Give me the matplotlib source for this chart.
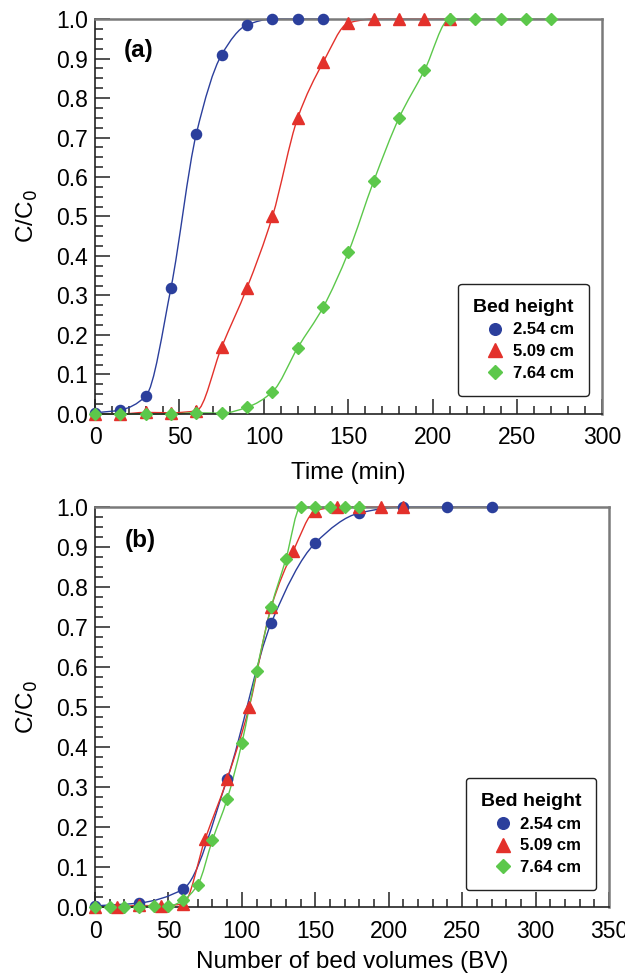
import numpy as np
import matplotlib
matplotlib.use("Agg")
import matplotlib.pyplot as plt
from matplotlib.path import Path
from matplotlib.patches import PathPatch
from matplotlib import ticker

plt.rcParams['font.family'] = ['Liberation Sans', 'DejaVu Sans']

# ---- data ----
labels = ['2.54 cm', '5.09 cm', '7.64 cm']

t_254 = [0, 15, 30, 45, 60, 75, 90, 105, 120, 135]
c_254 = [0.003, 0.01, 0.045, 0.32, 0.71, 0.91, 0.985, 1.0, 1.0, 1.0]

t_509 = [0, 15, 30, 45, 60, 75, 90, 105, 120, 135, 150, 165, 180, 195, 210]
c_509 = [0.0, 0.0, 0.004, 0.003, 0.008, 0.17, 0.32, 0.50, 0.75, 0.89, 0.99, 1.0, 1.0, 1.0, 1.0]

t_764 = [0, 15, 30, 45, 60, 75, 90, 105, 120, 135, 150, 165, 180, 195, 210, 225, 240, 255, 270]
c_764 = [0.0, 0.0, 0.0, 0.0, 0.003, 0.002, 0.017, 0.056, 0.168, 0.27, 0.41, 0.59, 0.75, 0.87, 1.0, 1.0, 1.0, 1.0, 1.0]

bv_254 = [0, 30, 60, 90, 120, 150, 180, 210, 240, 270]
bv_509 = [0, 15, 30, 45, 60, 75, 90, 105, 120, 135, 150, 165, 180, 195, 210]
bv_764 = [0, 10, 20, 30, 40, 50, 60, 70, 80, 90, 100, 110, 120, 130, 140, 150, 160, 170, 180]

colors = ['#2b3f9c', '#e3312b', '#5cc84b']
markers = ['o', '^', 'D']
msizes = [7.3, 8.2, 6.2]


def smooth_path(x, y):
    # monotone cubic (Fritsch-Carlson) drawn as bezier segments
    x = np.asarray(x, float)
    y = np.asarray(y, float)
    h = np.diff(x)
    d = np.diff(y) / h
    m = np.zeros_like(y)
    m[0], m[-1] = d[0], d[-1]
    for i in range(1, len(x) - 1):
        if d[i - 1] * d[i] <= 0:
            m[i] = 0
        else:
            w1 = 2 * h[i] + h[i - 1]
            w2 = h[i] + 2 * h[i - 1]
            m[i] = (w1 + w2) / (w1 / d[i - 1] + w2 / d[i])
    verts = [(x[0], y[0])]
    codes = [Path.MOVETO]
    for i in range(len(x) - 1):
        verts += [(x[i] + h[i] / 3, y[i] + m[i] * h[i] / 3),
                  (x[i + 1] - h[i] / 3, y[i + 1] - m[i + 1] * h[i] / 3),
                  (x[i + 1], y[i + 1])]
        codes += [Path.CURVE4] * 3
    return Path(verts, codes)


def style_axes(ax, xmax, xlabel, tag, tag_y, xpad):
    ax.set_xlim(0, xmax)
    ax.set_ylim(0, 1.0)
    ax.xaxis.set_major_locator(ticker.MultipleLocator(50))
    ax.xaxis.set_minor_locator(ticker.MultipleLocator(10))
    ax.yaxis.set_major_locator(ticker.MultipleLocator(0.1))
    ax.yaxis.set_minor_locator(ticker.MultipleLocator(0.025))
    ax.yaxis.set_major_formatter(ticker.FormatStrFormatter('%.1f'))
    ax.tick_params(which='both', direction='in', top=False, right=False,
                   labelsize=16.5, color='#222222', width=1.1)
    ax.tick_params(which='major', length=11)
    ax.tick_params(which='minor', length=5.5)
    ax.tick_params(axis='x', which='major', pad=9)
    ax.tick_params(axis='y', which='major', pad=5)
    for s in ['left', 'bottom']:
        ax.spines[s].set_color('#222222')
        ax.spines[s].set_linewidth(1.2)
    for s in ['top', 'right']:
        ax.spines[s].set_color('#7a7a7a')
        ax.spines[s].set_linewidth(1.8)
    ax.set_xlabel(xlabel, fontsize=17.5, labelpad=xpad)
    ax.set_ylabel('C/C$_0$', fontsize=17.5, labelpad=12)
    ax.text(0.057, tag_y, tag, transform=ax.transAxes, fontsize=17.5,
            fontweight='bold', ha='left', va='center')


def draw_series(ax, xs, ys, anchor):
    for x, y, col, mk, ms, lab in zip(xs, ys, colors, markers, msizes, labels):
        ax.add_patch(PathPatch(smooth_path(x, y), fill=False, edgecolor=col,
                               lw=1.0, clip_on=False, zorder=2))
        ax.plot(x, y, linestyle='none', marker=mk, ms=ms, color=col,
                mec=col, label=lab, clip_on=False, zorder=3)
    leg = ax.legend(title='Bed height', loc='lower right',
                    bbox_to_anchor=anchor, bbox_transform=ax.transAxes,
                    prop={'weight': 'bold', 'size': 12},
                    title_fontproperties={'weight': 'bold', 'size': 14},
                    frameon=True, fancybox=True, edgecolor='#222222',
                    framealpha=1.0, handlelength=1.0, handletextpad=0.55,
                    labelspacing=0.4, borderpad=0.9, markerscale=1.15,
                    borderaxespad=0.0)
    leg.get_frame().set_linewidth(1.0)
    leg._legend_box.align = 'right'
    return leg


fig = plt.figure(figsize=(6.25, 9.75), dpi=100)

ax1 = fig.add_axes([0.152, 0.5754, 0.811, 0.4051])
style_axes(ax1, 300, 'Time (min)', '(a)', 0.921, 9)
draw_series(ax1, [t_254, t_509, t_764], [c_254, c_509, c_764],
            (0.974, 0.046))

ax2 = fig.add_axes([0.152, 0.0697, 0.8224, 0.4103])
style_axes(ax2, 350, 'Number of bed volumes (BV)', '(b)', 0.9175, 6)
draw_series(ax2, [bv_254, bv_509, bv_764], [c_254, c_509, c_764],
            (0.975, 0.0425))

fig.savefig('out.png', dpi=100)
